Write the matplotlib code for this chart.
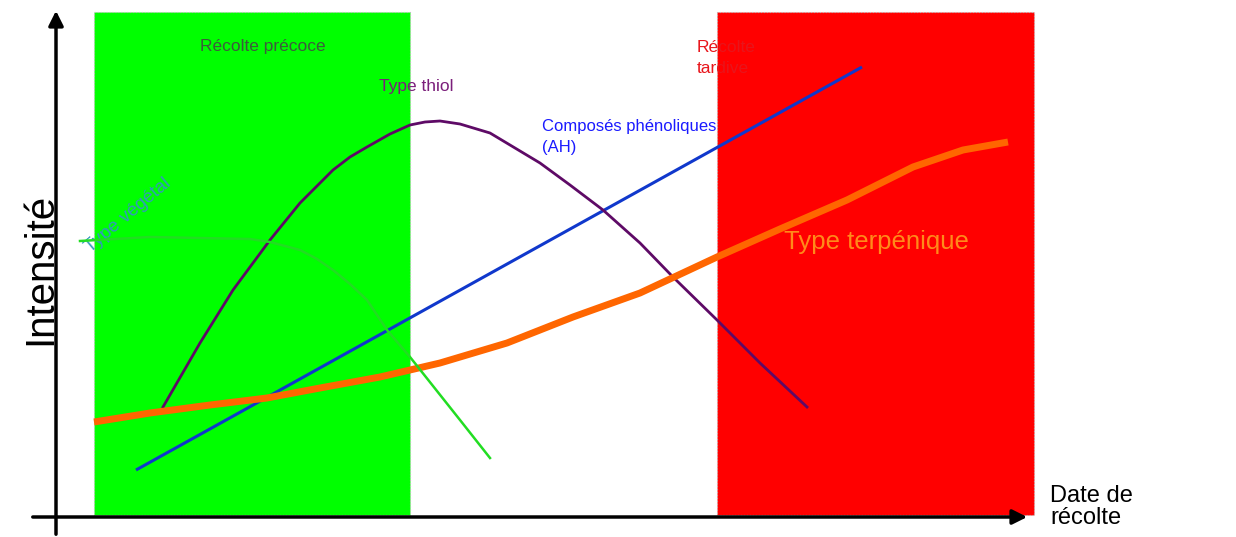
import matplotlib
matplotlib.use("Agg")
import matplotlib.pyplot as plt
from matplotlib.patches import Rectangle

# ---- data (x = harvest date position, y = intensity) ----
terp_x = [94, 150, 210, 267, 320, 380, 410, 440, 507, 573, 640, 717, 780, 847, 913, 963, 1008]
terp_y = [115, 124, 132, 139, 149, 160, 167, 174, 194, 220, 244, 280, 308, 337, 370, 387, 395]

phen_x = [136, 862]
phen_y = [67, 470]

thiol_x = [163, 200, 233, 270, 300, 317, 333, 350, 367, 390, 410, 425, 440, 460, 490, 540, 570,
           603, 640, 673, 717, 760, 807]
thiol_y = [130, 194, 247, 297, 334, 351, 367, 380, 390, 403, 412, 415, 416, 413, 404, 374, 352,
           327, 294, 260, 217, 174, 130]

veg_x = [80, 150, 200, 250, 270, 285, 300, 317, 333, 350, 367, 387, 410, 460, 490]
veg_y = [296, 300, 299, 298, 295, 291, 287, 278, 267, 253, 237, 207, 180, 117, 79]

early_zone = [94, 410]
late_zone = [717, 1034]
zone_bottom, zone_top = 22, 525

base = "Liberation Sans"

fig = plt.figure(figsize=(12.36, 5.37), dpi=100)
ax = fig.add_axes([0, 0, 1, 1])
ax.set_xlim(0, 1236)
ax.set_ylim(0, 537)
ax.axis("off")

ax.add_patch(Rectangle((early_zone[0], zone_bottom), early_zone[1] - early_zone[0], zone_top - zone_bottom,
                       facecolor="#00FF00", edgecolor="#bbbbbb", linestyle=":", lw=0.8, zorder=1))
ax.add_patch(Rectangle((late_zone[0], zone_bottom), late_zone[1] - late_zone[0], zone_top - zone_bottom,
                       facecolor="#FF0000", edgecolor="#bbbbbb", linestyle=":", lw=0.8, zorder=1))

ax.plot(phen_x, phen_y, color="#1038CC", lw=2.2, zorder=3, solid_capstyle="butt")
ax.plot(thiol_x, thiol_y, color="#5E0A66", lw=2.0, zorder=3, solid_joinstyle="round")
ax.plot(terp_x, terp_y, color="#FF6600", lw=5.0, zorder=4, solid_capstyle="butt", solid_joinstyle="round")
ax.plot(veg_x, veg_y, color="#22DD22", lw=1.8, zorder=5, solid_joinstyle="round")

# axes arrows
ax.annotate("", xy=(56, 529), xytext=(56, 0),
            arrowprops=dict(arrowstyle="-|>", lw=2.5, color="black", mutation_scale=22), zorder=6)
ax.annotate("", xy=(1030, 20), xytext=(30, 20),
            arrowprops=dict(arrowstyle="-|>", lw=2.5, color="black", mutation_scale=22), zorder=6)

ax.text(40, 268, "Intensité", rotation=90, ha="center", va="center", fontsize=29,
        family=base, color="black")
ax.text(1050, 30, "Date de\nrécolte", ha="left", va="center", fontsize=17, family=base,
        color="black", linespacing=1.05)

ax.text(263, 491, "Récolte précoce", ha="center", va="center", fontsize=12.5, family=base, color="#3d5c3d")
ax.text(416, 451, "Type thiol", ha="center", va="center", fontsize=12.5, family=base, color="#7B1F7B")
ax.text(542, 400, "Composés phénoliques\n(AH)", ha="left", va="center", fontsize=12, family=base,
        color="#1A1AFF", linespacing=1.45)
ax.text(697, 479, "Récolte\ntardive", ha="left", va="center", fontsize=12.5, family=base,
        color="#E8151B", linespacing=1.45)
ax.text(90, 284, "Type végétal", rotation=40, rotation_mode="anchor", ha="left", va="baseline",
        fontsize=13.5, family=base, color="#3399BB")
ax.text(876, 295, "Type terpénique", ha="center", va="center", fontsize=18.5, family=base,
        color="#FF8A1A", zorder=7)

fig.savefig("out.png", dpi=100)
